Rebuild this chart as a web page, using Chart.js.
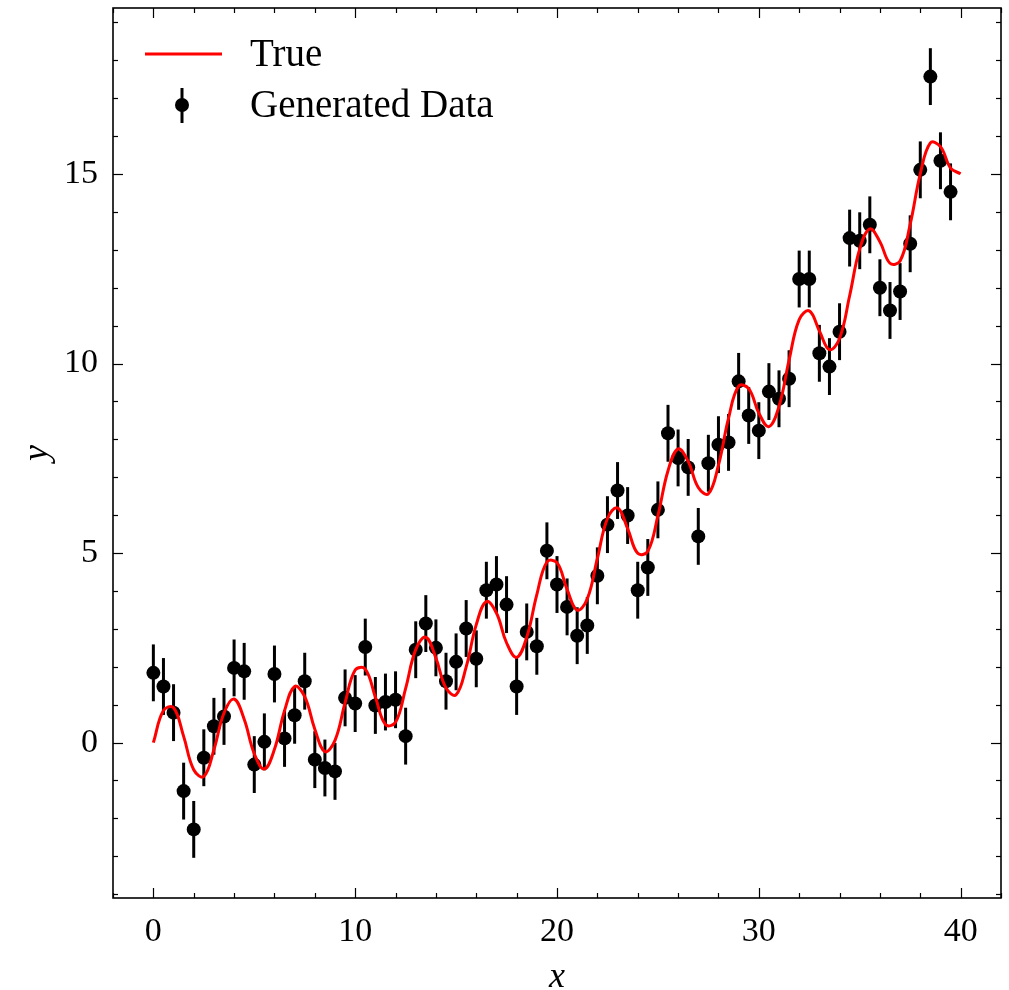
<!DOCTYPE html>
<html>
<head>
<meta charset="utf-8">
<script src="https://cdn.jsdelivr.net/npm/chart.js@4.4.1/dist/chart.umd.min.js"></script>
<style>
html,body{margin:0;padding:0;background:#fff;}
#wrap{width:1009px;height:990px;position:relative;}
</style>
</head>
<body>
<div id="wrap"><canvas id="c"></canvas></div>
<script>
// ---- data ----
const xData = [0,0.5,1,1.5,2,2.5,3,3.5,4,4.5,5,5.5,6,6.5,7,7.5,8,8.5,9,9.5,
  10,10.5,11,11.5,12,12.5,13,13.5,14,14.5,15,15.5,16,16.5,17,17.5,18,18.5,19,19.5,
  20,20.5,21,21.5,22,22.5,23,23.5,24,24.5,25,25.5,26,26.5,27,27.5,28,28.5,29,29.5,
  30,30.5,31,31.5,32,32.5,33,33.5,34,34.5,35,35.5,36,36.5,37,37.5,38,38.5,39,39.5];
const yData = [1.84,1.48,0.79,-1.28,-2.29,-0.40,0.43,0.69,1.97,1.88,
  -0.58,0.02,1.81,0.11,0.72,1.62,-0.45,-0.67,-0.76,1.18,
  1.03,2.52,0.98,1.07,1.13,0.17,2.45,3.14,2.50,1.62,
  2.13,3.01,2.21,4.02,4.17,3.64,1.48,2.92,2.54,5.06,
  4.17,3.58,2.82,3.09,4.40,5.75,6.65,5.99,4.02,4.62,
  6.14,8.16,7.51,7.26,5.44,7.37,7.86,7.92,9.53,8.63,
  8.23,9.26,9.07,9.60,12.23,12.23,10.27,9.92,10.84,13.31,
  13.24,13.66,12.00,11.40,11.90,13.16,15.11,17.57,15.35,14.53];
const yErr = 0.75;

const xTrue = [0,0.5,1,1.5,2,2.5,3,3.5,4,4.5,5,5.5,6,6.5,7,7.5,8,8.5,9,9.5,
  10,10.5,11,11.5,12,12.5,13,13.5,14,14.5,15,15.5,16,16.5,17,17.5,18,18.5,19,19.5,
  20,20.5,21,21.5,22,22.5,23,23.5,24,24.5,25,25.5,26,26.5,27,27.5,28,28.5,29,29.5,
  30,30.5,31,31.5,32,32.5,33,33.5,34,34.5,35,35.5,36,36.5,37,37.5,38,38.5,39,39.5,40];
const yTrue = [0,0.844,0.919,0.164,-0.717,-0.896,-0.189,0.780,1.149,0.615,
  -0.294,-0.698,-0.177,0.843,1.481,1.213,0.352,-0.239,0.059,1.052,
  1.913,1.939,1.201,0.476,0.534,1.430,2.453,2.779,2.231,1.439,
  1.262,1.999,3.111,3.722,3.419,2.634,2.248,2.779,3.906,4.766,
  4.745,4.044,3.494,3.791,4.858,5.913,6.192,5.646,4.992,5.049,
  5.988,7.173,7.747,7.419,6.731,6.563,7.318,8.559,9.403,9.339,
  8.695,8.336,8.871,10.090,11.160,11.389,10.863,10.367,10.662,11.788,
  13.024,13.554,13.214,12.646,12.705,13.675,15.006,15.822,15.724,15.158,15.006];

const xMajorTicks = [0,10,20,30,40];
const xMinorTicks = [-2,2,4,6,8,12,14,16,18,22,24,26,28,32,34,36,38,42];
const yMajorTicks = [0,5,10,15];
const yMinorTicks = [-4,-3,-2,-1,1,2,3,4,6,7,8,9,11,12,13,14,16,17,18,19];

const seriesLabels = ['True','Generated Data'];
const FONT = "'Liberation Serif','DejaVu Serif',serif";

// ---- plugins ----
const errorBars = {
  id:'errorBars',
  beforeDatasetsDraw(chart){
    const {ctx, scales:{x,y}} = chart;
    ctx.save();
    ctx.strokeStyle = '#000';
    ctx.lineWidth = 3;
    for (let i=0;i<xData.length;i++){
      const px = x.getPixelForValue(xData[i]);
      ctx.beginPath();
      ctx.moveTo(px, y.getPixelForValue(yData[i]-yErr));
      ctx.lineTo(px, y.getPixelForValue(yData[i]+yErr));
      ctx.stroke();
    }
    ctx.restore();
  }
};

const frameTicks = {
  id:'frameTicks',
  afterDraw(chart){
    const {ctx, chartArea:a, scales:{x,y}} = chart;
    ctx.save();
    ctx.strokeStyle = '#000';
    ctx.lineWidth = 1.2;
    const drawX = (vals,len)=>{
      vals.forEach(v=>{
        const p = Math.round(x.getPixelForValue(v))+0.5;
        ctx.beginPath(); ctx.moveTo(p,a.bottom); ctx.lineTo(p,a.bottom-len); ctx.stroke();
        ctx.beginPath(); ctx.moveTo(p,a.top); ctx.lineTo(p,a.top+len); ctx.stroke();
      });
    };
    const drawY = (vals,len)=>{
      vals.forEach(v=>{
        const p = Math.round(y.getPixelForValue(v))+0.5;
        ctx.beginPath(); ctx.moveTo(a.left,p); ctx.lineTo(a.left+len,p); ctx.stroke();
        ctx.beginPath(); ctx.moveTo(a.right,p); ctx.lineTo(a.right-len,p); ctx.stroke();
      });
    };
    drawX(xMinorTicks,5); drawX(xMajorTicks,10);
    drawY(yMinorTicks,5); drawY(yMajorTicks,10);
    ctx.lineWidth = 1.6;
    ctx.strokeRect(a.left,a.top,a.right-a.left,a.bottom-a.top);

    // legend
    ctx.font = "39px " + FONT;
    ctx.fillStyle = '#000';
    ctx.textBaseline = 'middle';
    ctx.textAlign = 'left';
    ctx.strokeStyle = '#ff0000';
    ctx.lineWidth = 3;
    ctx.beginPath(); ctx.moveTo(145,54); ctx.lineTo(222,54); ctx.stroke();
    ctx.fillText(seriesLabels[0], 250, 56);
    ctx.strokeStyle = '#000';
    ctx.lineWidth = 3;
    ctx.beginPath(); ctx.moveTo(182,88); ctx.lineTo(182,123); ctx.stroke();
    ctx.beginPath(); ctx.arc(182,105,7,0,Math.PI*2); ctx.fill();
    ctx.fillText(seriesLabels[1], 250, 107);
    ctx.restore();
  }
};

new Chart(document.getElementById('c'), {
  type:'scatter',
  data:{
    datasets:[
      {
        type:'line',
        label:seriesLabels[0],
        data:xTrue.map((v,i)=>({x:v,y:yTrue[i]})),
        borderColor:'#ff0000',
        borderWidth:3,
        pointRadius:0,
        tension:0.4,
        fill:false,
        order:0
      },
      {
        label:seriesLabels[1],
        data:xData.map((v,i)=>({x:v,y:yData[i]})),
        backgroundColor:'#000',
        borderColor:'#000',
        pointRadius:7,
        pointBorderWidth:0,
        order:1
      }
    ]
  },
  options:{
    responsive:true,
    maintainAspectRatio:false,
    animation:false,
    layout:{padding:{top:8,right:8,left:0,bottom:0}},
    plugins:{legend:{display:false},tooltip:{enabled:false}},
    scales:{
      x:{
        type:'linear', min:-2, max:42,
        afterBuildTicks:(s)=>{ s.ticks = xMajorTicks.map(v=>({value:v})); },
        afterFit:(s)=>{ s.height = 92; s.paddingLeft = 0; s.paddingRight = 0; },
        grid:{display:false, drawTicks:false},
        border:{display:false},
        ticks:{color:'#000', font:{family:FONT,size:34}, padding:14, maxRotation:0, autoSkip:false},
        title:{display:true, text:'x', color:'#000', font:{family:FONT,size:36,style:'italic',lineHeight:0.8}, padding:{top:0,bottom:-2}}
      },
      y:{
        type:'linear', min:-4.1, max:19.38,
        afterBuildTicks:(s)=>{ s.ticks = yMajorTicks.map(v=>({value:v})); },
        afterFit:(s)=>{ s.width = 113; s.paddingTop = 0; s.paddingBottom = 0; },
        grid:{display:false, drawTicks:false},
        border:{display:false},
        ticks:{color:'#000', font:{family:FONT,size:34}, padding:15, autoSkip:false},
        title:{display:true, text:'y', color:'#000', font:{family:FONT,size:36,style:'italic',lineHeight:0.8}, padding:{top:23.6,bottom:0}}
      }
    }
  },
  plugins:[errorBars, frameTicks]
});
</script>
</body>
</html>
